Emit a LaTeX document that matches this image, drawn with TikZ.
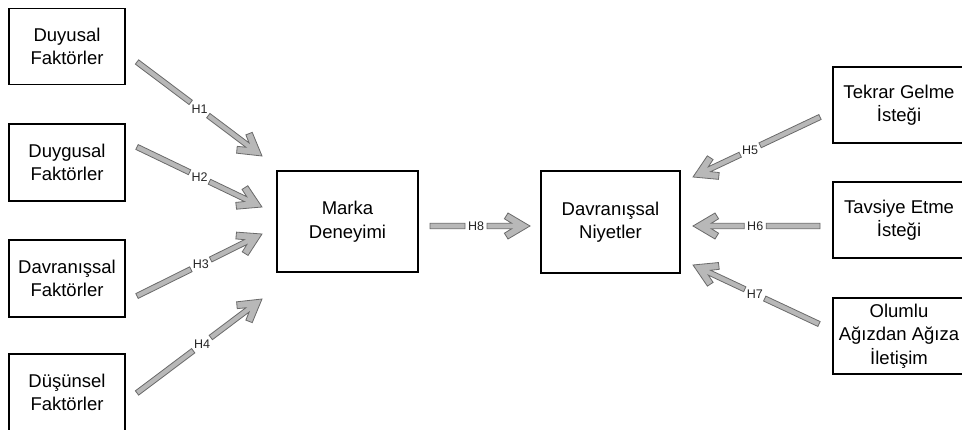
\documentclass[tikz,border=0pt]{standalone}
\usepackage{fontspec}
\setmainfont{Liberation Sans}
\usetikzlibrary{calc}
\definecolor{arrowfill}{HTML}{B8B8B8}
\definecolor{arrowline}{HTML}{6A6A6A}
\tikzset{
  box/.style={draw=black, line width=1.1pt, inner sep=0pt, align=center,
    font=\fontsize{18.5}{23.5}\selectfont, text=black},
  garrow/.style={fill=arrowfill, draw=arrowline, line width=0.8pt, line join=miter},
  hlabel/.style={font=\fontsize{12.5}{13}\selectfont, inner sep=0pt, text=black!85}
}
\newcommand\garrowdraw[5]{%
  \draw[garrow] let \p1=($(#2)-(#1)$), \n1={atan2(\y1,\x1)}, \n2={veclen(\x1,\y1)}, \n3={#3*\n2} in
    [shift={(#1)}, rotate=\n1]
    (0,2.7) -- ({\n3-11},2.7) -- ({\n3-11},-2.7) -- (0,-2.7) -- cycle
    ({\n3+11},2.7) -- ({\n2-18.2},2.7) -- ({\n2-25.6},7.2) -- ({\n2-22},13) -- (\n2,0)
      -- ({\n2-22},-13) -- ({\n2-25.6},-7.2) -- ({\n2-18.2},-2.7) -- ({\n3+11},-2.7) -- cycle;
  \node[hlabel] (#5) at ($(#1)!#3!(#2)$) {#4};
}
\begin{document}
\begin{tikzpicture}[x=1pt, y=-1pt]
\useasboundingbox (0,0) rectangle (962,430);
\fill[white] (0,0) rectangle (962,430);
\clip (0,0) rectangle (962,430);
% left column
\node[box, minimum width=116, minimum height=76] (duyusal) at (67,46.5) {Duyusal\\Faktörler};
\node[box, minimum width=116, minimum height=77] (duygusal) at (67,162.5) {Duygusal\\Faktörler};
\node[box, minimum width=116, minimum height=77] (davranissal) at (67,278.5) {Davranışsal\\Faktörler};
\node[box, minimum width=116, minimum height=77] (dusunsel) at (67,392.5) {Düşünsel\\Faktörler};
% middle
\node[box, minimum width=141, minimum height=101] (marka) at (347.5,221.5) {Marka\\Deneyimi};
\node[box, minimum width=139, minimum height=102] (niyet) at (610.5,222) {Davranışsal\\Niyetler};
% right column
\node[box, minimum width=132, minimum height=76] (tekrar) at (899,105) {Tekrar Gelme\\İsteği};
\node[box, minimum width=132, minimum height=76] (tavsiye) at (899,220) {Tavsiye Etme\\İsteği};
\node[box, minimum width=132, minimum height=76] (olumlu) at (899,336) {Olumlu\\Ağızdan Ağıza\\İletişim};
% arrow end points
\coordinate (s1) at (137,62);  \coordinate (t1) at (262,156);
\coordinate (s2) at (137,147); \coordinate (t2) at (262,207);
\coordinate (s3) at (137,296); \coordinate (t3) at (262,234);
\coordinate (s4) at (137,393); \coordinate (t4) at (262,299);
\coordinate (s5) at (820,117); \coordinate (t5) at (693,177);
\coordinate (s6) at (820,226); \coordinate (t6) at (693,226);
\coordinate (s7) at (819,324); \coordinate (t7) at (693,265);
\coordinate (s8) at (430,226); \coordinate (t8) at (530,226);
\garrowdraw{s1}{t1}{0.5}{H1}{h1}
\garrowdraw{s2}{t2}{0.5}{H2}{h2}
\garrowdraw{s3}{t3}{0.51}{H3}{h3}
\garrowdraw{s4}{t4}{0.52}{H4}{h4}
\garrowdraw{s5}{t5}{0.55}{H5}{h5}
\garrowdraw{s6}{t6}{0.51}{H6}{h6}
\garrowdraw{s7}{t7}{0.51}{H7}{h7}
\garrowdraw{s8}{t8}{0.46}{H8}{h8}
\end{tikzpicture}
\end{document}
